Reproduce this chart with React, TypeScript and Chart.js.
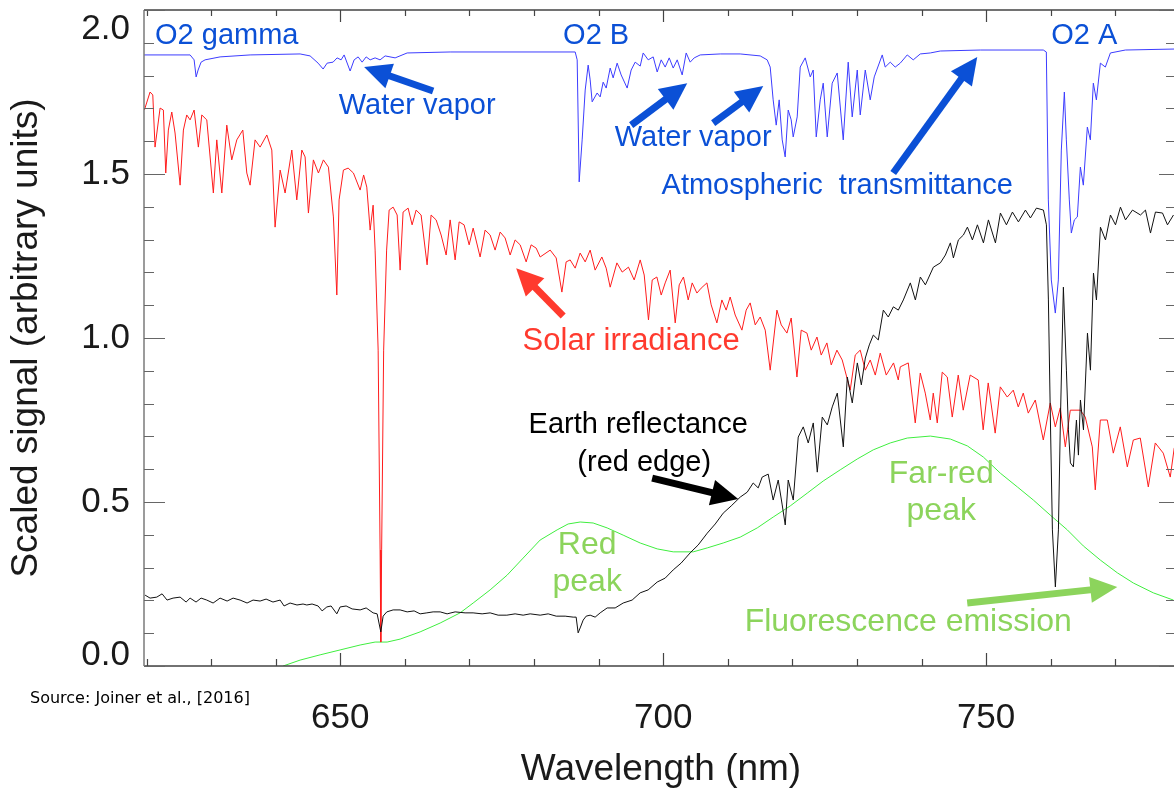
import React, { useEffect, useRef } from "react";
import { Chart, registerables } from "chart.js";

Chart.register(...registerables);

// ---------- DATA ----------
const xRange = [619.6, 779.1];
const yRange = [0, 2.0];
const xTickValues = [620, 630, 640, 650, 660, 670, 680, 690, 700, 710, 720, 730, 740, 750, 760, 770];
const xTickLabels = ["650", "700", "750"];
const xLabelValues = [650, 700, 750];
const yTickValues = [0, 0.1, 0.2, 0.3, 0.4, 0.5, 0.6, 0.7, 0.8, 0.9, 1.0, 1.1, 1.2, 1.3, 1.4, 1.5, 1.6, 1.7, 1.8, 1.9, 2.0];
const yLabelValues = [0, 0.5, 1.0, 1.5, 2.0];
const yTickLabels = ["0.0", "0.5", "1.0", "1.5", "2.0"];

// Atmospheric transmittance (blue)
const blueWl = [619.61, 626.74, 627.36, 627.67, 627.98, 628.44, 629.06, 631.38, 636.03, 643.77, 645.32, 646.56, 647.34, 647.96, 648.88, 649.5, 650.12, 650.59, 651.52, 652.14, 652.76, 653.38, 654.0, 654.62, 655.39, 656.16, 656.94, 658.49, 660.35, 667.01, 686.37, 686.68, 686.99, 687.45, 687.92, 688.38, 688.69, 689.0, 689.77, 690.24, 690.7, 691.17, 691.79, 692.25, 692.87, 693.49, 694.42, 695.04, 695.66, 696.44, 696.9, 697.68, 698.45, 699.07, 699.69, 700.31, 700.93, 701.55, 702.17, 702.94, 703.56, 704.18, 704.8, 705.73, 708.83, 711.92, 715.02, 716.1, 716.57, 717.03, 717.5, 717.96, 718.43, 718.89, 719.36, 719.82, 720.13, 720.75, 721.22, 721.99, 722.77, 723.23, 723.7, 724.32, 724.78, 725.4, 726.17, 726.95, 727.88, 728.65, 729.27, 730.05, 730.51, 731.29, 732.06, 732.68, 733.92, 734.38, 735.16, 735.93, 736.71, 737.79, 738.72, 739.81, 741.36, 742.9, 749.1, 758.86, 759.33, 759.64, 760.1, 760.72, 761.19, 761.65, 762.12, 762.43, 762.89, 763.2, 763.67, 764.13, 764.6, 765.06, 765.68, 766.15, 766.61, 767.08, 767.7, 768.47, 769.25, 771.57, 779.14];
const blueVal = [1.863, 1.863, 1.848, 1.796, 1.817, 1.841, 1.848, 1.857, 1.863, 1.866, 1.86, 1.838, 1.82, 1.838, 1.841, 1.854, 1.848, 1.863, 1.814, 1.848, 1.857, 1.841, 1.857, 1.848, 1.854, 1.848, 1.86, 1.854, 1.869, 1.872, 1.872, 1.848, 1.476, 1.604, 1.756, 1.832, 1.787, 1.72, 1.747, 1.735, 1.78, 1.762, 1.823, 1.793, 1.838, 1.802, 1.762, 1.817, 1.841, 1.829, 1.869, 1.848, 1.857, 1.811, 1.848, 1.826, 1.854, 1.823, 1.848, 1.802, 1.869, 1.841, 1.854, 1.863, 1.866, 1.866, 1.86, 1.848, 1.826, 1.726, 1.649, 1.726, 1.604, 1.552, 1.695, 1.665, 1.613, 1.674, 1.826, 1.854, 1.796, 1.817, 1.613, 1.726, 1.777, 1.613, 1.777, 1.808, 1.604, 1.841, 1.674, 1.817, 1.68, 1.817, 1.726, 1.796, 1.863, 1.826, 1.841, 1.826, 1.838, 1.863, 1.848, 1.866, 1.869, 1.875, 1.878, 1.878, 1.872, 1.421, 1.177, 1.076, 1.177, 1.573, 1.75, 1.604, 1.421, 1.32, 1.36, 1.369, 1.521, 1.466, 1.643, 1.604, 1.777, 1.726, 1.838, 1.826, 1.869, 1.878, 1.881];

// Solar irradiance (red)
const redWl = [619.66, 620.54, 620.96, 621.31, 622.09, 622.6, 622.97, 623.37, 623.9, 624.41, 625.19, 625.7, 626.22, 626.74, 627.36, 628.02, 628.55, 629.32, 630.34, 630.87, 631.65, 632.42, 633.19, 633.97, 634.9, 635.52, 636.03, 636.8, 637.58, 638.62, 639.39, 639.9, 640.68, 641.45, 642.49, 643.26, 644.04, 644.55, 645.06, 645.83, 646.61, 647.38, 648.16, 648.93, 649.46, 649.81, 650.48, 651.21, 652.03, 653.07, 653.61, 654.1, 654.62, 655.08, 655.39, 655.86, 656.16, 656.27, 656.4, 656.71, 657.17, 657.56, 658.18, 658.8, 659.26, 659.72, 660.5, 661.12, 661.74, 662.51, 663.44, 664.06, 664.84, 665.61, 666.39, 667.01, 667.78, 668.4, 669.17, 669.95, 670.57, 671.65, 672.42, 673.2, 673.97, 674.75, 675.52, 676.3, 677.07, 677.85, 678.78, 679.55, 680.33, 680.95, 682.5, 683.43, 684.31, 684.97, 685.59, 686.37, 687.14, 687.92, 688.69, 689.46, 690.5, 691.17, 691.79, 692.83, 693.65, 694.62, 695.51, 696.44, 697.06, 697.72, 698.3, 699.02, 699.69, 700.31, 701.08, 701.86, 702.48, 703.14, 703.87, 704.49, 705.22, 705.88, 706.77, 707.43, 708.31, 709.09, 709.75, 710.37, 711.15, 712.19, 712.85, 713.47, 714.25, 715.02, 715.8, 716.57, 717.61, 718.28, 719.16, 719.82, 720.71, 721.37, 722.26, 722.92, 723.81, 724.47, 725.35, 726.02, 726.9, 727.72, 728.96, 729.74, 730.51, 731.29, 732.06, 732.84, 733.61, 734.54, 735.67, 736.4, 736.71, 737.95, 739.03, 739.81, 740.58, 741.36, 741.82, 742.44, 743.21, 743.99, 744.76, 745.69, 746.46, 747.54, 748.78, 749.55, 750.33, 751.41, 752.2, 753.28, 754.21, 754.98, 755.76, 756.53, 757.62, 758.86, 759.94, 760.72, 761.49, 762.27, 763.04, 764.59, 765.36, 766.45, 766.91, 767.69, 768.77, 769.7, 770.78, 771.87, 772.8, 773.88, 775.12, 776.2, 777.44, 778.52, 779.14];
const redVal = [1.695, 1.75, 1.741, 1.582, 1.701, 1.695, 1.503, 1.634, 1.689, 1.625, 1.466, 1.634, 1.68, 1.665, 1.695, 1.582, 1.68, 1.665, 1.442, 1.604, 1.442, 1.649, 1.543, 1.604, 1.634, 1.503, 1.466, 1.604, 1.582, 1.619, 1.573, 1.338, 1.512, 1.442, 1.573, 1.421, 1.573, 1.552, 1.381, 1.543, 1.503, 1.543, 1.521, 1.369, 1.131, 1.421, 1.512, 1.518, 1.503, 1.451, 1.497, 1.46, 1.329, 1.405, 1.268, 0.963, 0.354, 0.073, 0.354, 0.963, 1.268, 1.39, 1.399, 1.375, 1.207, 1.384, 1.396, 1.345, 1.39, 1.375, 1.223, 1.375, 1.36, 1.314, 1.253, 1.36, 1.238, 1.354, 1.345, 1.284, 1.335, 1.247, 1.329, 1.314, 1.268, 1.323, 1.305, 1.253, 1.299, 1.284, 1.232, 1.284, 1.274, 1.247, 1.268, 1.244, 1.14, 1.232, 1.238, 1.213, 1.259, 1.232, 1.268, 1.207, 1.247, 1.213, 1.155, 1.229, 1.201, 1.216, 1.177, 1.238, 1.192, 1.055, 1.177, 1.186, 1.131, 1.168, 1.207, 1.046, 1.162, 1.186, 1.116, 1.168, 1.137, 1.152, 1.168, 1.101, 1.046, 1.116, 1.085, 1.125, 1.07, 1.024, 1.085, 1.107, 1.04, 1.064, 1.024, 0.902, 1.085, 1.04, 1.015, 1.061, 0.881, 1.024, 1.015, 0.963, 1.003, 0.948, 0.985, 0.918, 0.963, 0.933, 0.841, 0.948, 0.963, 0.902, 0.933, 0.887, 0.954, 0.887, 0.924, 0.872, 0.912, 0.924, 0.741, 0.893, 0.832, 0.75, 0.832, 0.741, 0.896, 0.881, 0.759, 0.887, 0.78, 0.887, 0.872, 0.72, 0.863, 0.71, 0.851, 0.82, 0.841, 0.79, 0.832, 0.771, 0.811, 0.689, 0.802, 0.729, 0.787, 0.668, 0.78, 0.78, 0.759, 0.668, 0.537, 0.75, 0.75, 0.649, 0.729, 0.607, 0.689, 0.695, 0.546, 0.68, 0.649, 0.576, 0.665];

// Earth reflectance (black)
const blackWl = [619.77, 620.54, 621.58, 622.4, 623.17, 624.1, 625.19, 626.12, 626.74, 627.66, 628.44, 629.32, 630.3, 631.38, 632.47, 633.4, 634.48, 635.56, 636.49, 637.58, 638.51, 639.57, 640.68, 641.29, 642.22, 643.29, 644.23, 644.81, 645.63, 646.56, 647.18, 647.91, 648.57, 649.46, 649.97, 650.9, 651.83, 653.07, 654.0, 655.08, 655.7, 656.27, 656.63, 657.2, 658.18, 659.26, 660.35, 661.43, 662.36, 663.4, 664.37, 665.46, 666.54, 667.78, 669.32, 670.56, 671.96, 673.2, 674.44, 675.79, 677.07, 678.31, 679.4, 680.95, 682.19, 683.43, 684.82, 686.06, 686.52, 686.83, 687.14, 687.61, 688.07, 688.69, 689.46, 690.24, 691.32, 692.56, 693.8, 695.19, 696.43, 697.67, 699.07, 700.31, 701.55, 702.79, 704.18, 705.42, 706.82, 708.06, 709.29, 710.53, 711.93, 713.01, 713.94, 714.71, 715.33, 716.26, 717.03, 717.81, 718.43, 718.9, 719.36, 720.14, 720.91, 721.69, 722.46, 723.24, 723.86, 724.63, 725.41, 726.18, 726.96, 727.89, 728.51, 729.28, 730.06, 730.68, 731.3, 731.92, 732.54, 733.31, 734.09, 734.86, 735.64, 736.41, 737.19, 738.27, 739.05, 739.82, 740.6, 741.84, 742.92, 743.7, 744.47, 744.94, 745.71, 746.49, 747.11, 747.88, 748.66, 749.59, 750.36, 751.45, 752.22, 753.15, 754.08, 755.01, 756.09, 756.87, 757.8, 758.88, 759.34, 759.65, 759.96, 760.27, 760.73, 761.2, 761.51, 761.97, 762.44, 762.75, 763.06, 763.52, 763.99, 764.3, 764.61, 765.08, 765.7, 766.16, 766.63, 767.09, 767.71, 768.49, 769.26, 770.04, 770.81, 771.59, 772.67, 773.91, 774.68, 775.46, 776.23, 777.32, 778.09, 779.02];
const blackVal = [0.216, 0.207, 0.21, 0.22, 0.201, 0.207, 0.21, 0.195, 0.207, 0.195, 0.207, 0.201, 0.192, 0.207, 0.198, 0.207, 0.201, 0.192, 0.201, 0.198, 0.204, 0.195, 0.201, 0.183, 0.192, 0.186, 0.189, 0.186, 0.189, 0.183, 0.168, 0.18, 0.183, 0.159, 0.18, 0.183, 0.174, 0.171, 0.177, 0.162, 0.159, 0.104, 0.152, 0.165, 0.171, 0.171, 0.165, 0.168, 0.159, 0.162, 0.165, 0.165, 0.159, 0.165, 0.162, 0.162, 0.159, 0.162, 0.155, 0.155, 0.159, 0.155, 0.159, 0.155, 0.159, 0.152, 0.152, 0.149, 0.149, 0.101, 0.116, 0.14, 0.152, 0.155, 0.149, 0.162, 0.177, 0.177, 0.192, 0.201, 0.223, 0.232, 0.256, 0.268, 0.293, 0.314, 0.345, 0.369, 0.405, 0.433, 0.466, 0.488, 0.515, 0.53, 0.558, 0.543, 0.576, 0.585, 0.506, 0.567, 0.491, 0.43, 0.567, 0.506, 0.698, 0.729, 0.68, 0.741, 0.591, 0.759, 0.735, 0.79, 0.832, 0.668, 0.881, 0.802, 0.924, 0.857, 0.939, 0.979, 1.009, 0.994, 1.085, 1.064, 1.095, 1.085, 1.116, 1.168, 1.116, 1.186, 1.162, 1.216, 1.229, 1.253, 1.29, 1.244, 1.299, 1.314, 1.338, 1.299, 1.345, 1.29, 1.36, 1.29, 1.381, 1.345, 1.384, 1.354, 1.39, 1.366, 1.396, 1.39, 1.345, 1.116, 0.75, 0.415, 0.241, 0.415, 0.75, 1.155, 0.902, 0.72, 0.619, 0.607, 0.75, 0.643, 0.811, 0.72, 1.015, 0.902, 1.198, 1.116, 1.338, 1.299, 1.375, 1.345, 1.399, 1.36, 1.39, 1.375, 1.39, 1.32, 1.384, 1.381, 1.345, 1.375];

// Fluorescence emission (green)
const greenWl = [641.14, 643.77, 646.87, 649.97, 653.07, 655.39, 657.25, 659.26, 662.36, 665.46, 668.55, 670.57, 673.2, 675.83, 678.31, 680.94, 683.57, 685.28, 687.14, 689.15, 691.32, 693.8, 696.44, 699.07, 701.55, 704.65, 706.82, 709.29, 711.93, 714.56, 717.03, 719.67, 722.3, 724.78, 727.41, 730.04, 732.53, 735.16, 737.79, 741.36, 744.46, 747.1, 749.58, 752.2, 754.84, 757.32, 759.94, 762.58, 765.06, 767.69, 770.33, 772.81, 775.9, 779.0];
const greenVal = [0.0, 0.018, 0.034, 0.049, 0.064, 0.073, 0.073, 0.082, 0.104, 0.131, 0.162, 0.192, 0.232, 0.277, 0.329, 0.384, 0.415, 0.433, 0.439, 0.436, 0.421, 0.399, 0.375, 0.357, 0.348, 0.348, 0.36, 0.375, 0.393, 0.421, 0.454, 0.488, 0.527, 0.564, 0.598, 0.631, 0.659, 0.68, 0.695, 0.701, 0.692, 0.671, 0.637, 0.588, 0.546, 0.506, 0.46, 0.415, 0.366, 0.323, 0.284, 0.253, 0.223, 0.201];

// Annotation texts
const labelTexts = ["O2 gamma", "O2 B", "O2 A", "Water vapor", "Water vapor", "Atmospheric  transmittance", "Solar irradiance", "Earth reflectance", "(red edge)", "Red", "peak", "Far-red", "peak", "Fluorescence emission"];
const labelX = [621.31, 689.62, 765.21, 661.9, 704.65, 726.95, 695.04, 696.13, 697.06, 688.23, 688.23, 743.06, 743.06, 737.95];
const labelY = [1.921, 1.921, 1.921, 1.707, 1.61, 1.463, 0.988, 0.735, 0.619, 0.369, 0.256, 0.585, 0.473, 0.134];
const labelKind = ["blue", "blue", "blue", "blue", "blue", "blue", "red", "black", "black", "green", "green", "green", "green", "green"];

// Arrows: tail (x,y) -> tip (x,y)
const arrowTailX = [664.37, 695.04, 707.74, 735.62, 684.51, 698.29, 747.08];
const arrowTailY = [1.753, 1.649, 1.655, 1.503, 1.067, 0.573, 0.192];
const arrowTipX = [653.69, 703.72, 715.49, 748.63, 677.23, 711.62, 770.32];
const arrowTipY = [1.826, 1.777, 1.768, 1.857, 1.213, 0.509, 0.241];
const arrowKind = ["blue", "blue", "blue", "blue", "red", "black", "green"];

const xTitle = "Wavelength (nm)";
const yTitle = "Scaled signal (arbitrary units)";
const sourceText = "Source: Joiner et al., [2016]";

// ---------- STYLES ----------
const textColors: Record<string, string> = {
  blue: "#0b50d6",
  red: "#ff3a2e",
  black: "#000000",
  green: "#8cd45c",
};
const textSizes: Record<string, number> = { blue: 29, red: 31, black: 29, green: 32 };
const FONT = "'Liberation Sans', Arial, Helvetica, sans-serif";

function toPts(xs: number[], ys: number[]) {
  return xs.map((x, i) => ({ x, y: ys[i] }));
}

function drawArrow(ctx: CanvasRenderingContext2D, x0: number, y0: number, x1: number, y1: number, color: string) {
  const dx = x1 - x0;
  const dy = y1 - y0;
  const len = Math.sqrt(dx * dx + dy * dy);
  const ux = dx / len;
  const uy = dy / len;
  const headLen = 27;
  const headHalf = 13;
  const bx = x1 - ux * headLen;
  const by = y1 - uy * headLen;
  ctx.save();
  ctx.strokeStyle = color;
  ctx.fillStyle = color;
  ctx.lineWidth = 7;
  ctx.lineCap = "butt";
  ctx.beginPath();
  ctx.moveTo(x0, y0);
  ctx.lineTo(bx + ux * 2, by + uy * 2);
  ctx.stroke();
  ctx.beginPath();
  ctx.moveTo(x1, y1);
  ctx.lineTo(bx - uy * headHalf, by + ux * headHalf);
  ctx.lineTo(bx + uy * headHalf, by - ux * headHalf);
  ctx.closePath();
  ctx.fill();
  ctx.restore();
}

const framePlugin = {
  id: "framePlugin",
  afterDatasetsDraw(chart: any) {
    const ctx: CanvasRenderingContext2D = chart.ctx;
    const { left, right, top, bottom } = chart.chartArea;
    const xs = chart.scales.x;
    const ys = chart.scales.y;
    ctx.save();

    ctx.textBaseline = "middle";
    labelTexts.forEach((t, i) => {
      const k = labelKind[i];
      ctx.font = `${textSizes[k]}px ${FONT}`;
      ctx.fillStyle = textColors[k];
      ctx.textAlign = i === 0 ? "left" : "center";
      ctx.fillText(t, xs.getPixelForValue(labelX[i]), ys.getPixelForValue(labelY[i]));
    });
    arrowKind.forEach((k, i) => {
      drawArrow(
        ctx,
        xs.getPixelForValue(arrowTailX[i]),
        ys.getPixelForValue(arrowTailY[i]),
        xs.getPixelForValue(arrowTipX[i]),
        ys.getPixelForValue(arrowTipY[i]),
        textColors[k]
      );
    });

    ctx.lineWidth = 1.5;
    ctx.strokeStyle = "#444";
    ctx.beginPath();
    ctx.moveTo(left, top);
    ctx.lineTo(right, top);
    ctx.moveTo(left, bottom);
    ctx.lineTo(right, bottom);
    ctx.stroke();
    ctx.strokeStyle = "#7a7a7a";
    ctx.beginPath();
    ctx.moveTo(left, top);
    ctx.lineTo(left, bottom);
    ctx.stroke();

    ctx.lineWidth = 1.2;
    ctx.strokeStyle = "#444";
    xTickValues.forEach((v) => {
      const px = Math.round(xs.getPixelForValue(v)) + 0.5;
      const major = xLabelValues.includes(v);
      ctx.beginPath();
      ctx.moveTo(px, bottom);
      ctx.lineTo(px, bottom - (major ? 13 : 7));
      ctx.moveTo(px, top);
      ctx.lineTo(px, top + (major ? 12 : 6));
      ctx.stroke();
    });
    ctx.strokeStyle = "#666";
    yTickValues.forEach((v) => {
      const py = Math.round(ys.getPixelForValue(v)) + 0.5;
      const major = Math.abs(v * 2 - Math.round(v * 2)) < 1e-6;
      ctx.beginPath();
      ctx.moveTo(left, py);
      ctx.lineTo(left + (major ? 21 : 10), py);
      ctx.moveTo(right, py);
      ctx.lineTo(right - (major ? 15 : 8), py);
      ctx.stroke();
    });

    ctx.fillStyle = "#1a1a1a";
    ctx.font = `35px ${FONT}`;
    ctx.textAlign = "center";
    ctx.textBaseline = "middle";
    xLabelValues.forEach((v, i) => {
      ctx.fillText(xTickLabels[i], xs.getPixelForValue(v), bottom + 52);
    });
    ctx.textAlign = "right";
    yLabelValues.forEach((v, i) => {
      let py = ys.getPixelForValue(v);
      py = Math.min(Math.max(py, top + 19), bottom - 11);
      ctx.fillText(yTickLabels[i], left - 14, py);
    });

    ctx.font = `37px ${FONT}`;
    ctx.textAlign = "center";
    ctx.fillText(xTitle, (left + right) / 2 + 2, bottom + 104);
    ctx.save();
    ctx.translate(27, (top + bottom) / 2);
    ctx.rotate(-Math.PI / 2);
    ctx.fillText(yTitle, 0, 0);
    ctx.restore();

    ctx.font = `16px 'DejaVu Sans', sans-serif`;
    ctx.textAlign = "left";
    ctx.fillStyle = "#000";
    ctx.fillText(sourceText, 30, bottom + 33);

    ctx.restore();
  },
};

export default function App() {
  const ref = useRef<HTMLCanvasElement | null>(null);
  useEffect(() => {
    if (!ref.current) return;
    const line = (data: any, color: string) => ({
      data,
      borderColor: color,
      borderWidth: 1,
      pointRadius: 0,
      tension: 0,
      fill: false,
    });
    const chart = new Chart(ref.current, {
      type: "line",
      data: {
        datasets: [
          { label: "Atmospheric transmittance", ...line(toPts(blueWl, blueVal), "#3c3cff") },
          { label: "Earth reflectance", ...line(toPts(blackWl, blackVal), "#111111") },
          { label: "Solar irradiance", ...line(toPts(redWl, redVal), "#ff1c1c") },
          { label: "Fluorescence emission", ...line(toPts(greenWl, greenVal), "#3fee3f") },
        ],
      },
      options: {
        animation: false,
        responsive: false,
        devicePixelRatio: 1,
        layout: { padding: { left: 144, right: 0, top: 10, bottom: 130 } },
        plugins: { legend: { display: false }, tooltip: { enabled: false } },
        scales: {
          x: { type: "linear", min: xRange[0], max: xRange[1], display: false },
          y: { type: "linear", min: yRange[0], max: yRange[1], display: false },
        },
      },
      plugins: [framePlugin],
    });
    return () => chart.destroy();
  }, []);
  return (
    <div style={{ position: "absolute", left: 0, top: 0, width: 1174, height: 796, background: "#fff" }}>
      <canvas ref={ref} width={1174} height={796} />
    </div>
  );
}
